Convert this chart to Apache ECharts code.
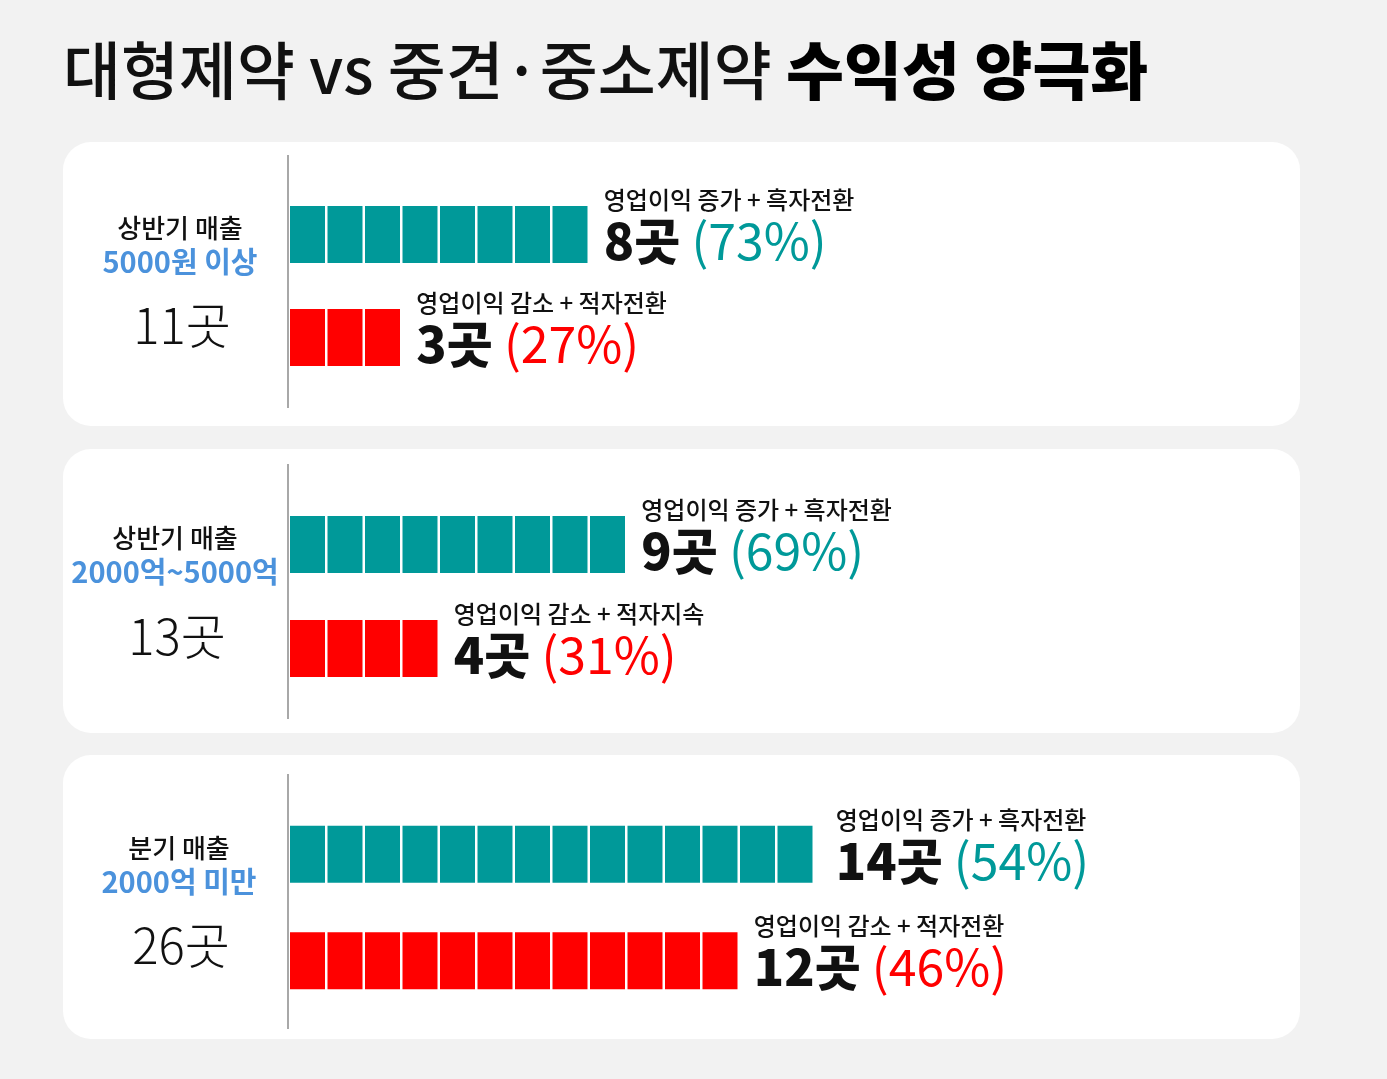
<!DOCTYPE html>
<html>
<head>
<meta charset="utf-8">
<script src="https://cdn.jsdelivr.net/npm/echarts@6.0.0/dist/echarts.min.js"></script>
<style>
  html, body { margin: 0; padding: 0; background: #f2f2f2; }
  #main { width: 1387px; height: 1079px; }
</style>
</head>
<body>
<div id="main"></div>
<script>
// 매출 구간별 제약사 수익성 (곳)
const groupNames = ['상반기 매출', '상반기 매출', '분기 매출'];
const salesRanges = ['5000원 이상', '2000억~5000억', '2000억 미만'];
const totalCounts = [11, 13, 26];
const upCounts = [8, 9, 14];
const downCounts = [3, 4, 12];
const upShares = [73, 69, 54];
const downShares = [27, 31, 46];
const upLabels = ['영업이익 증가 + 흑자전환', '영업이익 증가 + 흑자전환', '영업이익 증가 + 흑자전환'];
const downLabels = ['영업이익 감소 + 적자전환', '영업이익 감소 + 적자지속', '영업이익 감소 + 적자전환'];
const rowNames = ['증가', '감소'];

const FONT = '"Noto Sans CJK KR", "Noto Sans", sans-serif';
const TEAL = '#009999';
const RED = '#ff0000';
const BLUE = '#4b92dc';

// 패널 배치
const panelTops = [142, 449, 755];
const panelHeight = 284;
const lineRanges = [[155, 408], [464, 719], [774, 1029]];
const gridTops = [183, 492.4, 801.1];
const gridHeights = [206, 208, 213];
const leftCenters = [180, 175, 179];
const leftRows = [[228, 262, 325], [538, 572, 636], [848, 882, 945]];
const UNIT = 37.5;   // 한 칸(1곳) 폭
const MAXV = 25;

const chart = echarts.init(document.getElementById('main'));

const graphic = [];
// 제목
graphic.push({
  type: 'text', x: 63, y: 70, z: 10,
  style: {
    text: '{a|대형제약 vs 중견·중소제약}{b| 수익성 양극화}',
    verticalAlign: 'middle',
    rich: {
      a: { fontSize: 63, fontWeight: 500, fontFamily: FONT, fill: '#111' },
      b: { fontSize: 63, fontWeight: 900, fontFamily: FONT, fill: '#000' }
    }
  }
});

const grids = [], xAxes = [], yAxes = [], series = [];

for (let i = 0; i < 3; i++) {
  // 흰 배경 카드
  graphic.push({
    type: 'rect', z: 0,
    shape: { x: 63, y: panelTops[i], width: 1237, height: panelHeight, r: 28 },
    style: { fill: '#ffffff' }
  });
  // 세로 구분선
  graphic.push({
    type: 'line', z: 1,
    shape: { x1: 288, y1: lineRanges[i][0], x2: 288, y2: lineRanges[i][1] },
    style: { stroke: '#a8a8a8', lineWidth: 2 }
  });
  // 왼쪽 라벨
  graphic.push({
    type: 'text', z: 10, x: leftCenters[i], y: leftRows[i][0],
    style: { text: groupNames[i], align: 'center', verticalAlign: 'middle',
      fontSize: 26, fontWeight: 500, fontFamily: FONT, fill: '#111' }
  });
  graphic.push({
    type: 'text', z: 10, x: leftCenters[i], y: leftRows[i][1],
    style: { text: salesRanges[i], align: 'center', verticalAlign: 'middle',
      fontSize: 29, fontWeight: 700, fontFamily: FONT, fill: BLUE }
  });
  graphic.push({
    type: 'text', z: 10, x: leftCenters[i] + 2, y: leftRows[i][2],
    style: { text: totalCounts[i] + '곳', align: 'center', verticalAlign: 'middle',
      fontSize: 49, fontWeight: 300, fontFamily: FONT, fill: '#111' }
  });

  grids.push({ left: 288.75, width: UNIT * MAXV, top: gridTops[i], height: gridHeights[i] });
  xAxes.push({ type: 'value', gridIndex: i, min: 0, max: MAXV, show: false });
  yAxes.push({ type: 'category', gridIndex: i, data: rowNames, inverse: true, show: false });

  series.push({
    type: 'pictorialBar',
    xAxisIndex: i,
    yAxisIndex: i,
    symbol: 'rect',
    symbolRepeat: true,
    symbolSize: [35, 57],
    symbolMargin: '1.25!',
    animation: false,
    data: [
      { value: upCounts[i], itemStyle: { color: TEAL }, label: { distance: i === 2 ? 22 : 15 } },
      { value: downCounts[i], itemStyle: { color: RED } }
    ],
    label: {
      show: true,
      position: 'right',
      distance: 15,
      offset: [0, -8.5],
      formatter: function (p) {
        const k = p.dataIndex;
        if (k === 0) {
          return '{s|' + upLabels[i] + '}\n{n|' + upCounts[i] + '곳}{pu| (' + upShares[i] + '%)}';
        }
        return '{s|' + downLabels[i] + '}\n{n|' + downCounts[i] + '곳}{pd| (' + downShares[i] + '%)}';
      },
      rich: {
        s: { fontSize: 24, fontWeight: 500, fontFamily: FONT, color: '#111', lineHeight: 30 },
        n: { fontSize: 50, fontWeight: 900, fontFamily: FONT, color: '#111', lineHeight: 52 },
        pu: { fontSize: 50, fontWeight: 400, fontFamily: FONT, color: TEAL, lineHeight: 52 },
        pd: { fontSize: 50, fontWeight: 400, fontFamily: FONT, color: RED, lineHeight: 52 }
      }
    }
  });
}

chart.setOption({
  backgroundColor: '#f2f2f2',
  animation: false,
  graphic: graphic,
  grid: grids,
  xAxis: xAxes,
  yAxis: yAxes,
  series: series
});
</script>
</body>
</html>
